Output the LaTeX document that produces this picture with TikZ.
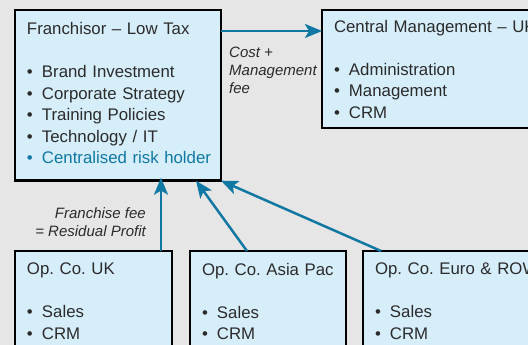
\documentclass[tikz,border=0pt]{standalone}
\usepackage{fontspec}
\setmainfont{Liberation Sans}
\usetikzlibrary{arrows.meta}
\definecolor{bggray}{HTML}{E6E6E6}
\definecolor{boxblue}{HTML}{D6EEFA}
\definecolor{flowblue}{HTML}{1078A3}
\definecolor{txtgray}{HTML}{2B2B2B}
\newcommand\itm[1]{\mbox{\makebox[15pt][l]{\textbullet}#1}}
\frenchspacing
\begin{document}
\begin{tikzpicture}[x=1pt,y=-1pt,
  box/.style={draw=black,line width=2.5pt,fill=boxblue,rectangle,outer sep=0pt,
    anchor=north west,align=left,inner xsep=12pt,text=txtgray,
    font=\fontsize{16.8pt}{21.5pt}\selectfont\frenchspacing},
  lbl/.style={inner sep=0pt,text=txtgray,font=\fontsize{15pt}{18pt}\selectfont\itshape},
  flow/.style={draw=flowblue,line width=2.5pt,-{Stealth[length=\l,width=\w,inset=4pt]}}]
\def\l{17pt}
\def\w{14pt}
\path[use as bounding box,clip] (0,0) rectangle (528,345);
\fill[bggray] (0,0) rectangle (528,345);
% top row
\node [box,inner ysep=12.5pt,text depth=133.5pt,text width=182pt,name=franchisor] at (15,10)
  {\mbox{Franchisor -- Low Tax}\\[21.5pt]
   \itm{Brand Investment}\\
   \itm{Corporate Strategy}\\
   \itm{Training Policies}\\
   \itm{Technology / IT}\\
   \textcolor{flowblue}{\itm{Centralised risk holder}}};
\node [box,inner ysep=10pt,text depth=86pt,text width=216pt,name=central] at (322,10)
  {\mbox{Central Management -- UK}\\[21.5pt]
   \itm{Administration}\\
   \itm{Management}\\
   \itm{CRM}};
% operating companies
\node [box,inner ysep=12pt,text width=133pt,name=opuk] at (15,251)
  {\mbox{Op. Co. UK}\\[21.5pt]
   \itm{Sales}\\
   \itm{CRM}};
\node [box,inner ysep=12pt,text width=132pt,name=opasia] at (190,251)
  {\mbox{Op. Co. Asia Pac}\\[21.5pt]
   \itm{Sales}\\
   \itm{CRM}};
\node [box,inner ysep=12pt,text width=176pt,name=opeuro] at (363,251)
  {\mbox{Op. Co. Euro \& ROW}\\[21.5pt]
   \itm{Sales}\\
   \itm{CRM}};
% fees
\draw [flow] ([yshift=-21pt]franchisor.north east) -- ([yshift=-21pt]franchisor.north east -| central.west);
\draw [flow,shorten >=-3pt] ([xshift=-11pt]opuk.north east) -- ([xshift=-11pt]opuk.north east |- franchisor.south);
\draw [flow] ([xshift=57pt]opasia.north west) -- ([xshift=-25pt]franchisor.south east);
\draw [flow] ([xshift=18pt]opeuro.north west) -- (franchisor.south east);
\node [lbl,anchor=north west,align=left,name=costlbl] at (229,47) {Cost +\\Management\\fee};
\node [lbl,anchor=north east,align=right,name=feelbl] at (146,207) {Franchise fee\\= Residual Profit};
\end{tikzpicture}
\end{document}
